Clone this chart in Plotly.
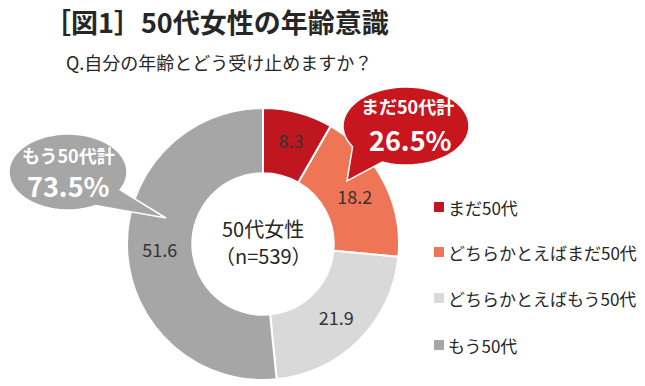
import numpy as np
import plotly.graph_objects as go

W, H = 645, 386

categories = ["まだ50代", "どちらかとえばまだ50代", "どちらかとえばもう50代", "もう50代"]
values = [8.3, 18.2, 21.9, 51.6]
colors = ["#C0161F", "#EE7556", "#D9D9D9", "#A6A6A6"]
total_young_label = "まだ50代計"
total_young = "26.5%"
total_old_label = "もう50代計"
total_old = "73.5%"
title = "［図1］50代女性の年齢意識"
subtitle = "Q.自分の年齢とどう受け止めますか？"
center_text = ["50代女性", "（n=539）"]

FONT = "Noto Sans CJK JP"


def px(x, y):
    return x / W, 1 - y / H


# donut geometry in pixels
cx, cy, r = 263, 244, 136
x0, y0 = px(cx - r, cy - r)
x1, y1 = px(cx + r, cy + r)

fig = go.Figure()
fig.add_trace(go.Pie(
    labels=categories,
    values=values,
    text=[f"{v:.1f}" for v in values],
    textinfo="text",
    textposition="inside",
    insidetextorientation="horizontal",
    textfont=dict(family=FONT, size=18, color="#333333"),
    marker=dict(colors=colors, line=dict(color="white", width=2)),
    sort=False,
    direction="clockwise",
    rotation=0,
    hole=0.52,
    domain=dict(x=[x0, x1], y=[y1, y0]),
    showlegend=False,
    hoverinfo="label+value",
))


def bubble_path(ecx, ecy, rx, ry, a_start, a_end, tip, n=80):
    # ellipse (screen coords, y down) from a_end going around to a_start, then tail tip
    angs = np.linspace(np.radians(a_end), np.radians(a_start) + 2 * np.pi, n)
    pts = [(ecx + rx * np.cos(a), ecy + ry * np.sin(a)) for a in angs]
    pts.append(tip)
    s = ""
    for i, (x, y) in enumerate(pts):
        X, Y = px(x, y)
        s += ("M" if i == 0 else "L") + f"{X:.5f},{Y:.5f} "
    return s + "Z"


shapes = []
# red bubble
shapes.append(dict(type="path", xref="paper", yref="paper",
                   path=bubble_path(406, 126, 63, 39, 112, 148, (347, 181)),
                   fillcolor="#C8161E", line=dict(color="white", width=1.5)))
# gray bubble
shapes.append(dict(type="path", xref="paper", yref="paper",
                   path=bubble_path(68, 172, 59, 38, 28, 62, (166, 218)),
                   fillcolor="#A6A6A6", line=dict(color="white", width=1.5)))

annotations = []


def ann(text, x, y, size, color="#262626", bold=False, xanchor="center"):
    X, Y = px(x, y)
    annotations.append(dict(text=f"<b>{text}</b>" if bold else text,
                            x=X, y=Y, xref="paper", yref="paper",
                            xanchor=xanchor, yanchor="middle", showarrow=False,
                            font=dict(family=FONT, size=size, color=color)))


ann(title, 42, 22, 27, "#262626", bold=True, xanchor="left")
ann(subtitle, 64, 62, 18, "#262626", xanchor="left")
ann(center_text[0], cx, 228, 20, "#262626")
ann(center_text[1], cx, 255, 20, "#262626")
ann(total_young_label, 407, 106, 18, "white", bold=True)
ann(total_young, 410, 140, 27, "white", bold=True)
ann(total_old_label, 68, 155, 18, "white", bold=True)
ann(total_old, 68, 186, 27, "white", bold=True)

# legend
leg_y = [207, 252, 298, 345]
for lab, col, ly in zip(categories, colors, leg_y):
    sx0, sy0 = px(434, ly - 5)
    sx1, sy1 = px(444, ly + 5)
    shapes.append(dict(type="rect", xref="paper", yref="paper",
                       x0=sx0, x1=sx1, y0=sy1, y1=sy0,
                       fillcolor=col, line=dict(width=0)))
    ann(lab, 446, ly, 17, "#262626", xanchor="left")

fig.update_layout(
    width=W, height=H,
    margin=dict(l=0, r=0, t=0, b=0),
    paper_bgcolor="white",
    plot_bgcolor="white",
    shapes=shapes,
    annotations=annotations,
    font=dict(family=FONT),
)

fig.write_html("out.html", config={"displayModeBar": False},
               post_script="document.body.style.margin='0';")
